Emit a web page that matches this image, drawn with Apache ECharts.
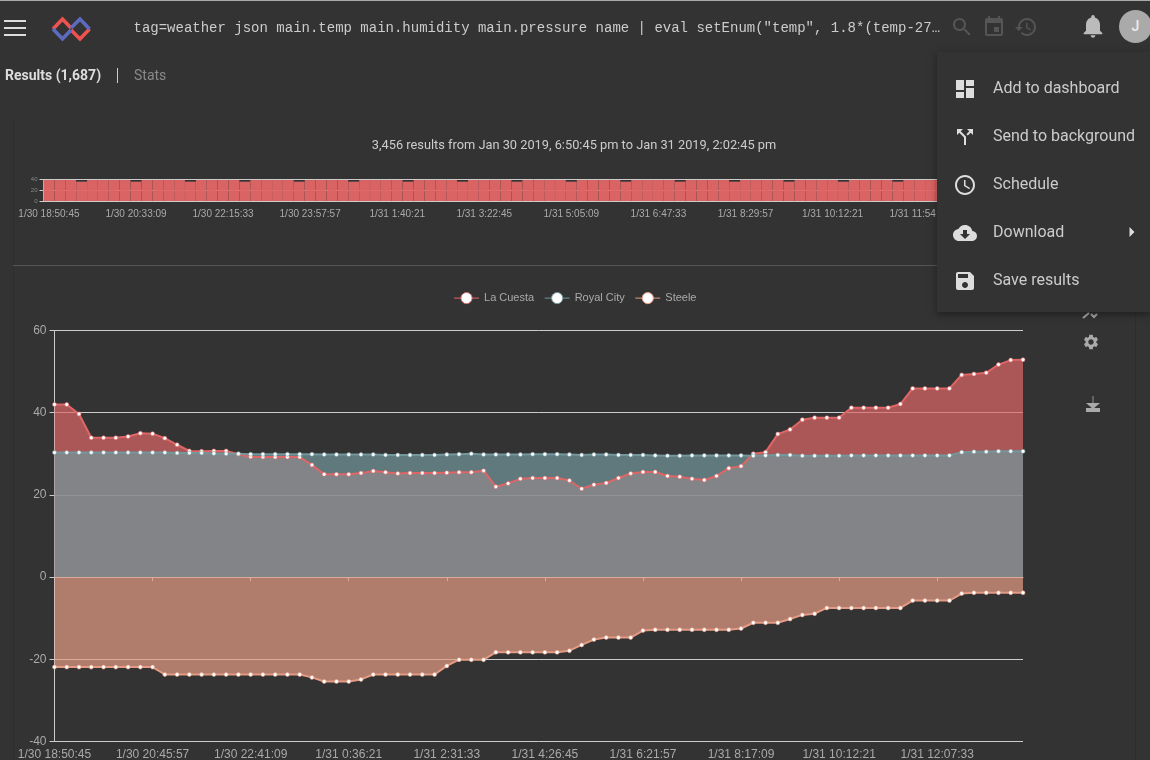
<!DOCTYPE html>
<html>
<head>
<meta charset="utf-8">
<script src="https://cdn.jsdelivr.net/npm/echarts@6/dist/echarts.min.js"></script>
<style>
html,body{margin:0;padding:0;width:1150px;height:760px;overflow:hidden;background:#333;font-family:Roboto,sans-serif;}
#chart{position:absolute;left:0;top:0;width:1150px;height:760px;}
.abs{position:absolute;}
svg{position:absolute;display:block;}
#menu{position:absolute;left:937px;top:52px;width:213px;height:260px;background:#333;box-shadow:0 3px 6px rgba(0,0,0,.28),0 1px 12px rgba(0,0,0,.14);z-index:5;}
.mi{position:absolute;left:56px;font-size:16px;line-height:20px;color:#ccc;white-space:nowrap;}
</style>
</head>
<body>
<div id="chart"></div>

<div class="abs" style="left:0;top:0;width:1150px;height:1px;background:#aaa;"></div>
<div class="abs" style="left:13px;top:120px;width:1px;height:640px;background:#2e2e2e;"></div>
<div class="abs" style="left:1135px;top:312px;width:1px;height:448px;background:#2e2e2e;"></div>
<div class="abs" style="left:13px;top:265px;width:925px;height:1px;background:#555;"></div>

<div class="abs" style="left:4px;top:20px;width:22px;height:2px;background:#ddd;"></div>
<div class="abs" style="left:4px;top:27px;width:22px;height:2px;background:#ddd;"></div>
<div class="abs" style="left:4px;top:34px;width:22px;height:2px;background:#ddd;"></div>

<svg style="left:48px;top:14px;" width="46" height="30" viewBox="0 0 46 30" fill="none" stroke-width="3.6">
  <path d="M5 15 L14.5 5 L23 14" stroke="#ef5350"/>
  <path d="M23 16 L32 25 L41.5 15" stroke="#ef5350"/>
  <path d="M23 14 L32 5 L41.5 15" stroke="#5c6bc0"/>
  <path d="M5 15 L14.5 25 L23 16" stroke="#5c6bc0"/>
</svg>

<div class="abs" style="left:133.5px;top:19px;font-family:'Liberation Mono',monospace;font-size:14px;line-height:18px;color:#ccc;white-space:pre;">tag=weather json main.temp main.humidity main.pressure name | eval setEnum("temp", 1.8*(temp-27…</div>

<svg style="left:950px;top:15px;" width="24" height="24" viewBox="0 0 24 24" fill="#555"><path d="M15.5 14h-.79l-.28-.27C15.41 12.59 16 11.11 16 9.5 16 5.91 13.09 3 9.5 3S3 5.91 3 9.5 5.91 16 9.5 16c1.61 0 3.09-.59 4.23-1.57l.27.28v.79l5 4.99L20.49 19l-4.99-5zm-6 0C7.01 14 5 11.99 5 9.5S7.01 5 9.5 5 14 7.01 14 9.5 11.99 14 9.5 14z"/></svg>
<svg style="left:982px;top:15px;" width="24" height="24" viewBox="0 0 24 24" fill="#555"><path d="M17 12h-5v5h5v-5zM16 1v2H8V1H6v2H5c-1.11 0-1.99.9-1.99 2L3 19c0 1.1.89 2 2 2h14c1.1 0 2-.9 2-2V5c0-1.1-.9-2-2-2h-1V1h-2zm3 18H5V8h14v11z"/></svg>
<svg style="left:1014px;top:15px;" width="24" height="24" viewBox="0 0 24 24" fill="#555"><path d="M13 3c-4.97 0-9 4.03-9 9H1l3.89 3.89.07.14L9 12H6c0-3.87 3.13-7 7-7s7 3.13 7 7-3.13 7-7 7c-1.93 0-3.68-.79-4.94-2.06l-1.42 1.42C8.27 19.99 10.51 21 13 21c4.97 0 9-4.03 9-9s-4.03-9-9-9zm-1 5v5l4.28 2.54.72-1.21-3.5-2.08V8H12z"/></svg>
<svg style="left:1079px;top:12px;" width="28" height="28" viewBox="0 0 24 24" fill="#bbb"><path d="M12 22c1.1 0 2-.9 2-2h-4c0 1.1.89 2 2 2zm6-6v-5c0-3.07-1.64-5.64-4.5-6.32V4c0-.83-.67-1.5-1.5-1.5s-1.5.67-1.5 1.5v.68C7.63 5.36 6 7.92 6 11v5l-2 2v1h16v-1l-2-2z"/></svg>
<div class="abs" style="left:1119px;top:10px;width:33px;height:33px;border-radius:50%;background:#aaa;color:#eee;font-size:14px;line-height:33px;text-align:center;font-weight:500;">J</div>

<div class="abs" style="left:5px;top:66px;font-size:14px;line-height:18px;font-weight:700;color:#ddd;">Results (1,687)</div>
<div class="abs" style="left:117px;top:68px;width:1px;height:15px;background:#ccc;"></div>
<div class="abs" style="left:134px;top:66px;font-size:14px;line-height:18px;color:#8a8a8a;">Stats</div>

<div class="abs" style="left:274px;width:600px;top:137px;font-size:12.8px;line-height:16px;color:#ccc;text-align:center;">3,456 results from Jan 30 2019, 6:50:45 pm to Jan 31 2019, 2:02:45 pm</div>

<svg style="left:1082px;top:303px;" width="18" height="18" viewBox="0 0 18 18" stroke="#aaa" stroke-width="2" fill="none"><path d="M1 15 L7 10"/><path d="M9 11 L12 14 L15 11" /></svg>
<svg style="left:1082px;top:333px;" width="18" height="18" viewBox="0 0 24 24" fill="#aaa"><path d="M19.14 12.94c.04-.3.06-.61.06-.94 0-.32-.02-.64-.07-.94l2.03-1.58c.18-.14.23-.41.12-.61l-1.92-3.32c-.12-.22-.37-.29-.59-.22l-2.39.96c-.5-.38-1.03-.7-1.62-.94l-.36-2.54c-.04-.24-.24-.41-.48-.41h-3.84c-.24 0-.43.17-.47.41l-.36 2.54c-.59.24-1.13.57-1.62.94l-2.39-.96c-.22-.08-.47 0-.59.22L2.74 8.87c-.12.21-.08.47.12.61l2.03 1.58c-.05.3-.09.63-.09.94s.02.64.07.94l-2.03 1.58c-.18.14-.23.41-.12.61l1.92 3.32c.12.22.37.29.59.22l2.39-.96c.5.38 1.03.7 1.62.94l.36 2.54c.05.24.24.41.48.41h3.84c.24 0 .44-.17.47-.41l.36-2.54c.59-.24 1.13-.56 1.62-.94l2.39.96c.22.08.47 0 .59-.22l1.92-3.32c.12-.22.07-.47-.12-.61l-2.01-1.58zM12 15.6c-1.98 0-3.6-1.62-3.6-3.6s1.62-3.6 3.6-3.6 3.6 1.62 3.6 3.6-1.62 3.6-3.6 3.6z"/></svg>
<svg style="left:1085px;top:395px;" width="16" height="18" viewBox="0 0 16 18"><path d="M8 1 V8" stroke="#777" stroke-width="1.4"/><path d="M1 8 H15 L8 14 Z" fill="#aaa"/><rect x="1" y="13" width="14" height="4" fill="#aaa"/></svg>

<div id="menu">
  <svg style="left:16px;top:25px;" width="24" height="24" viewBox="0 0 24 24" fill="#ddd"><path d="M3 13h8V3H3v10zm0 8h8v-6H3v6zm10 0h8V11h-8v10zm0-18v6h8V3h-8z"/></svg>
  <div class="mi" style="top:26px;">Add to dashboard</div>
  <svg style="left:16px;top:73px;" width="24" height="24" viewBox="0 0 24 24" fill="#ddd"><path d="M14 4l2.29 2.29-2.88 2.88 1.42 1.42 2.88-2.88L20 10V4zm-4 0H4v6l2.29-2.29 4.71 4.7V20h2v-8.41l-5.29-5.3z"/></svg>
  <div class="mi" style="top:74px;">Send to background</div>
  <svg style="left:16px;top:121px;" width="24" height="24" viewBox="0 0 24 24" fill="#ddd"><path d="M11.99 2C6.47 2 2 6.48 2 12s4.47 10 9.99 10C17.52 22 22 17.52 22 12S17.52 2 11.99 2zM12 20c-4.42 0-8-3.58-8-8s3.58-8 8-8 8 3.58 8 8-3.58 8-8 8zm.5-13H11v6l5.25 3.15.75-1.23-4.5-2.67z"/></svg>
  <div class="mi" style="top:122px;">Schedule</div>
  <svg style="left:16px;top:169px;" width="24" height="24" viewBox="0 0 24 24" fill="#ddd"><path d="M19.35 10.04C18.67 6.59 15.64 4 12 4 9.11 4 6.6 5.64 5.35 8.04 2.34 8.36 0 10.91 0 14c0 3.31 2.69 6 6 6h13c2.76 0 5-2.24 5-5 0-2.64-2.05-4.78-4.65-4.96zM17 13l-5 5-5-5h3V9h4v4h3z"/></svg>
  <div class="mi" style="top:170px;">Download</div>
  <svg style="left:192px;top:174px;" width="6" height="12" viewBox="0 0 6 12" fill="#ddd"><path d="M0.5 1 L5.5 6 L0.5 11 Z"/></svg>
  <svg style="left:16px;top:217px;" width="24" height="24" viewBox="0 0 24 24" fill="#ddd"><path d="M17 3H5c-1.11 0-2 .9-2 2v14c0 1.1.89 2 2 2h14c1.1 0 2-.9 2-2V7l-4-4zm-5 16c-1.66 0-3-1.34-3-3s1.34-3 3-3 3 1.34 3 3-1.34 3-3 3zm3-10H5V5h10v4z"/></svg>
  <div class="mi" style="top:218px;">Save results</div>
</div>

<script>
const timeLabels = ["1/30 18:50:45","1/30 19:05:09","1/30 19:19:33","1/30 19:33:57","1/30 19:48:21","1/30 20:02:45","1/30 20:17:09","1/30 20:31:33","1/30 20:45:57","1/30 21:00:21","1/30 21:14:45","1/30 21:29:09","1/30 21:43:33","1/30 21:57:57","1/30 22:12:21","1/30 22:26:45","1/30 22:41:09","1/30 22:55:33","1/30 23:09:57","1/30 23:24:21","1/30 23:38:45","1/30 23:53:09","1/31 0:07:33","1/31 0:21:57","1/31 0:36:21","1/31 0:50:45","1/31 1:05:09","1/31 1:19:33","1/31 1:33:57","1/31 1:48:21","1/31 2:02:45","1/31 2:17:09","1/31 2:31:33","1/31 2:45:57","1/31 3:00:21","1/31 3:14:45","1/31 3:29:09","1/31 3:43:33","1/31 3:57:57","1/31 4:12:21","1/31 4:26:45","1/31 4:41:09","1/31 4:55:33","1/31 5:09:57","1/31 5:24:21","1/31 5:38:45","1/31 5:53:09","1/31 6:07:33","1/31 6:21:57","1/31 6:36:21","1/31 6:50:45","1/31 7:05:09","1/31 7:19:33","1/31 7:33:57","1/31 7:48:21","1/31 8:02:45","1/31 8:17:09","1/31 8:31:33","1/31 8:45:57","1/31 9:00:21","1/31 9:14:45","1/31 9:29:09","1/31 9:43:33","1/31 9:57:57","1/31 10:12:21","1/31 10:26:45","1/31 10:41:09","1/31 10:55:33","1/31 11:09:57","1/31 11:24:21","1/31 11:38:45","1/31 11:53:09","1/31 12:07:33","1/31 12:21:57","1/31 12:36:21","1/31 12:50:45","1/31 13:05:09","1/31 13:19:33","1/31 13:33:57","1/31 13:48:21"];

const laCuesta = [42.0,42.0,39.7,33.9,33.9,33.9,34.2,35.0,34.9,33.8,32.2,30.7,30.6,30.7,30.7,29.9,29.3,29.2,29.2,29.2,29.2,27.3,25.0,25.0,25.0,25.3,25.8,25.5,25.2,25.3,25.3,25.3,25.4,25.5,25.5,25.9,22.0,22.8,23.9,24.1,24.1,24.1,23.5,21.5,22.5,22.9,24.1,25.2,25.6,25.6,24.6,24.4,23.9,23.6,24.6,26.5,27.0,30.0,30.4,34.8,35.9,38.3,38.8,38.8,38.8,41.2,41.2,41.2,41.2,42.1,45.9,45.9,45.9,45.9,49.2,49.4,49.7,51.7,52.8,52.9];

const royalCity = [30.3,30.3,30.3,30.3,30.3,30.3,30.3,30.3,30.3,30.3,30.2,30.2,30.2,30.1,30.0,30.0,29.9,29.9,29.9,29.9,29.9,29.9,29.8,29.8,29.8,29.8,29.8,29.7,29.7,29.7,29.7,29.7,29.8,29.9,30.0,29.8,29.8,29.8,29.8,29.9,29.9,29.9,29.8,29.7,29.8,29.8,29.7,29.7,29.7,29.6,29.5,29.5,29.6,29.6,29.6,29.6,29.6,29.5,29.6,29.7,29.7,29.5,29.5,29.5,29.5,29.6,29.6,29.6,29.6,29.6,29.6,29.6,29.6,29.6,30.4,30.5,30.5,30.6,30.6,30.6];

const steele = [-21.9,-21.9,-21.9,-21.9,-21.9,-21.9,-21.9,-21.9,-21.9,-23.7,-23.7,-23.7,-23.7,-23.7,-23.7,-23.7,-23.7,-23.7,-23.7,-23.7,-23.7,-24.4,-25.4,-25.4,-25.4,-24.9,-23.7,-23.7,-23.7,-23.7,-23.7,-23.7,-21.6,-20.1,-20.1,-20.1,-18.3,-18.3,-18.3,-18.3,-18.3,-18.3,-17.9,-16.5,-15.2,-14.7,-14.7,-14.7,-13.0,-12.8,-12.8,-12.8,-12.8,-12.8,-12.8,-12.8,-12.5,-11.1,-11.1,-11.1,-10.2,-9.2,-8.9,-7.5,-7.5,-7.5,-7.5,-7.5,-7.5,-7.5,-5.7,-5.7,-5.7,-5.7,-4.0,-3.8,-3.8,-3.8,-3.8,-3.8];

const overviewLabels = ["1/30 18:50:45","1/30 19:03:33","1/30 19:16:21","1/30 19:29:09","1/30 19:41:57","1/30 19:54:45","1/30 20:07:33","1/30 20:20:21","1/30 20:33:09","1/30 20:45:57","1/30 20:58:45","1/30 21:11:33","1/30 21:24:21","1/30 21:37:09","1/30 21:49:57","1/30 22:02:45","1/30 22:15:33","1/30 22:28:21","1/30 22:41:09","1/30 22:53:57","1/30 23:06:45","1/30 23:19:33","1/30 23:32:21","1/30 23:45:09","1/30 23:57:57","1/31 0:10:45","1/31 0:23:33","1/31 0:36:21","1/31 0:49:09","1/31 1:01:57","1/31 1:14:45","1/31 1:27:33","1/31 1:40:21","1/31 1:53:09","1/31 2:05:57","1/31 2:18:45","1/31 2:31:33","1/31 2:44:21","1/31 2:57:09","1/31 3:09:57","1/31 3:22:45","1/31 3:35:33","1/31 3:48:21","1/31 4:01:09","1/31 4:13:57","1/31 4:26:45","1/31 4:39:33","1/31 4:52:21","1/31 5:05:09","1/31 5:17:57","1/31 5:30:45","1/31 5:43:33","1/31 5:56:21","1/31 6:09:09","1/31 6:21:57","1/31 6:34:45","1/31 6:47:33","1/31 7:00:21","1/31 7:13:09","1/31 7:25:57","1/31 7:38:45","1/31 7:51:33","1/31 8:04:21","1/31 8:17:09","1/31 8:29:57","1/31 8:42:45","1/31 8:55:33","1/31 9:08:21","1/31 9:21:09","1/31 9:33:57","1/31 9:46:45","1/31 9:59:33","1/31 10:12:21","1/31 10:25:09","1/31 10:37:57","1/31 10:50:45","1/31 11:03:33","1/31 11:16:21","1/31 11:29:09","1/31 11:41:57","1/31 11:54:45","1/31 12:07:33","1/31 12:20:21","1/31 12:33:09","1/31 12:45:57","1/31 12:58:45","1/31 13:11:33","1/31 13:24:21","1/31 13:37:09","1/31 13:49:57"];

const overviewCounts = [39,39,39,36,39,39,39,39,36,39,39,39,39,36,39,39,39,39,36,39,39,39,39,36,39,39,39,39,36,39,39,39,39,36,39,39,39,39,36,39,39,39,39,36,39,39,39,39,36,39,39,39,39,36,39,39,39,39,36,39,39,39,39,36,39,39,39,39,36,39,39,39,39,36,39,39,39,39,36,39,39,39,39,36,39,39,39,39,36,39];

const seriesNames = ["La Cuesta","Royal City","Steele"];
const seriesColors = ["#e06666","#72979d","#e59b83"];
const seriesValues = [laCuesta, royalCity, steele];

const chart = echarts.init(document.getElementById('chart'), null, {renderer:'canvas'});
const axisText = '#aaa';
const lineColor = '#ccc';
const font = '"Liberation Sans", Arial, sans-serif';

chart.setOption({
  backgroundColor:'#333',
  animation:false,
  textStyle:{fontFamily:font},
  legend:{
    data:seriesNames, top:287, left:'center', itemWidth:25, itemHeight:14, itemGap:10,
    lineStyle:{width:1},
    itemStyle:{borderWidth:1},
    textStyle:{color:'#aaa',fontSize:11,fontFamily:font}
  },
  grid:[
    {left:43.5, right:127, top:179.5, height:21.5, outerBoundsMode:'none'},
    {left:54.5, right:127, top:330.5, height:411, outerBoundsMode:'none'}
  ],
  xAxis:[
    {gridIndex:0,type:'category',data:overviewLabels,boundaryGap:true,
     axisLine:{lineStyle:{color:lineColor}},axisTick:{interval:7,lineStyle:{color:lineColor},length:5},
     axisLabel:{interval:7,color:axisText,fontSize:10,margin:8,fontFamily:font},splitLine:{show:false}},
    {gridIndex:1,type:'category',data:timeLabels,boundaryGap:false,
     axisLine:{onZero:true,lineStyle:{color:lineColor}},axisTick:{interval:7,lineStyle:{color:lineColor},length:4},
     axisLabel:{interval:7,color:axisText,fontSize:12,margin:7,fontFamily:font},splitLine:{show:false}}
  ],
  yAxis:[
    {gridIndex:0,type:'value',min:0,max:40,interval:20,
     axisLine:{show:true,lineStyle:{color:lineColor}},axisTick:{show:true,length:4,lineStyle:{color:lineColor}},
     axisLabel:{color:'#888',fontSize:6,margin:6,fontFamily:font},
     splitLine:{show:true,lineStyle:{color:lineColor}}},
    {gridIndex:1,type:'value',min:-40,max:60,interval:20,
     axisLine:{show:true,lineStyle:{color:lineColor}},axisTick:{show:true,length:5,lineStyle:{color:lineColor}},
     axisLabel:{color:axisText,fontSize:12,margin:8,fontFamily:font},
     splitLine:{show:true,lineStyle:{color:lineColor}}}
  ],
  series:[
    {type:'bar',name:'count',xAxisIndex:0,yAxisIndex:0,data:overviewCounts,barCategoryGap:'1%',
     itemStyle:{color:'#e06666',opacity:0.97},silent:true},
    ...seriesNames.map((n,i)=>({
      type:'line',name:n,xAxisIndex:1,yAxisIndex:1,data:seriesValues[i],
      symbol:'circle',symbolSize:4,showSymbol:true,showAllSymbol:true,
      lineStyle:{color:seriesColors[i],width:2},
      itemStyle:{color:'#fff',borderColor:seriesColors[i],borderWidth:0.6},
      areaStyle:{color:seriesColors[i],opacity:0.7}
    }))
  ]
});
</script>
</body>
</html>
